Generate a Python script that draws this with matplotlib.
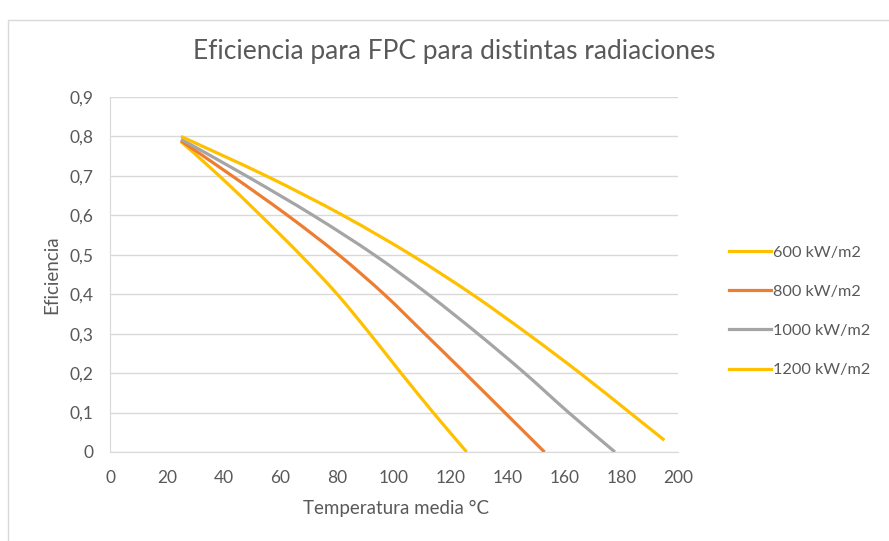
import matplotlib.pyplot as plt
from matplotlib.patches import Rectangle, PathPatch
from matplotlib.path import Path

# datos (cruces con cada linea de 0,1)
x_600 = [25, 38.5, 53, 67, 80, 91.5, 102.5, 113.8, 125.6]
y_600 = [0.787, 0.70, 0.60, 0.50, 0.40, 0.30, 0.20, 0.10, 0.0]

x_800 = [25, 43, 62.5, 80.5, 96.5, 110.8, 125, 139, 153]
y_800 = [0.789, 0.70, 0.60, 0.50, 0.40, 0.30, 0.20, 0.10, 0.0]

x_1000 = [25, 48, 71.5, 93, 112, 129.5, 146, 161.5, 177.8]
y_1000 = [0.793, 0.70, 0.60, 0.50, 0.40, 0.30, 0.20, 0.10, 0.0]

x_1200 = [25, 55, 82, 106, 127.5, 147, 165.5, 183, 195.2]
y_1200 = [0.80, 0.70, 0.60, 0.50, 0.40, 0.30, 0.20, 0.10, 0.03]

series = ["600 kW/m2", "800 kW/m2", "1000 kW/m2", "1200 kW/m2"]
colores = ["#FFC000", "#ED7D31", "#A5A5A5", "#FFC000"]

xticks = [0, 20, 40, 60, 80, 100, 120, 140, 160, 180, 200]
yticks = [0, 0.1, 0.2, 0.3, 0.4, 0.5, 0.6, 0.7, 0.8, 0.9]

plt.rcParams['font.family'] = ['Lato', 'DejaVu Sans']
gris = "#595959"


def linea_suave(xs, ys):
    # linea suavizada como en Excel (bezier por los puntos)
    p = list(zip(xs, ys))
    n = len(p)
    verts = [p[0]]
    codes = [Path.MOVETO]
    for i in range(n - 1):
        p0 = p[i - 1] if i > 0 else p[i]
        p1 = p[i]
        p2 = p[i + 1]
        p3 = p[i + 2] if i + 2 < n else p[i + 1]
        c1 = (p1[0] + (p2[0] - p0[0]) / 6, p1[1] + (p2[1] - p0[1]) / 6)
        c2 = (p2[0] - (p3[0] - p1[0]) / 6, p2[1] - (p3[1] - p1[1]) / 6)
        verts += [c1, c2, p2]
        codes += [Path.CURVE4] * 3
    return Path(verts, codes)


fig = plt.figure(figsize=(8.89, 5.41), dpi=100)
ax = fig.add_axes([110/889, 1-452/541, (678-110)/889, (452-97)/541])

# marco del area del grafico
fig.patches.append(Rectangle((8/889, -0.1), 1.2, 1-20/541+0.1, transform=fig.transFigure,
                             fill=False, edgecolor="#D9D9D9", linewidth=1))

datos = [(x_600, y_600), (x_800, y_800), (x_1000, y_1000), (x_1200, y_1200)]
for (xs, ys), nombre, c in zip(datos, series, colores):
    ax.add_patch(PathPatch(linea_suave(xs, ys), facecolor='none', edgecolor=c,
                           linewidth=2.3, capstyle='butt', zorder=3))
    ax.plot([], [], color=c, linewidth=2.3, label=nombre)

ax.set_xlim(0, 200)
ax.set_ylim(0, 0.9)
ax.set_xticks(xticks)
ax.set_yticks(yticks)
ax.set_xticklabels([str(t) for t in xticks])
ax.set_yticklabels(["0" if t == 0 else ("%.1f" % t).replace(".", ",") for t in yticks])
ax.tick_params(length=0, labelsize=12.5, labelcolor=gris)
ax.tick_params(axis='x', pad=13)
ax.tick_params(axis='y', pad=12)
ax.grid(axis='y', color="#D9D9D9", linewidth=1)
ax.set_axisbelow(True)
for s in ["top", "right"]:
    ax.spines[s].set_visible(False)
ax.spines["left"].set_color("#D9D9D9")
ax.spines["bottom"].set_color("#D9D9D9")

fig.text(454/889, 1-52/541, "Eficiencia para FPC para distintas radiaciones",
         fontsize=19, color=gris, ha='center', va='center')
fig.text(396/889, 1-508/541, "Temperatura media °C", fontsize=13.5, color=gris,
         ha='center', va='center')
fig.text(52/889, 1-275/541, "Eficiencia", fontsize=13.5, color=gris,
         ha='center', va='center', rotation=90)

fig.legend(loc="upper left", bbox_to_anchor=(714/889, 1-231/541), frameon=False,
           fontsize=11.7, labelcolor=gris, handlelength=2.6, handletextpad=0.15,
           labelspacing=1.52)

fig.savefig("out.png", dpi=100)
